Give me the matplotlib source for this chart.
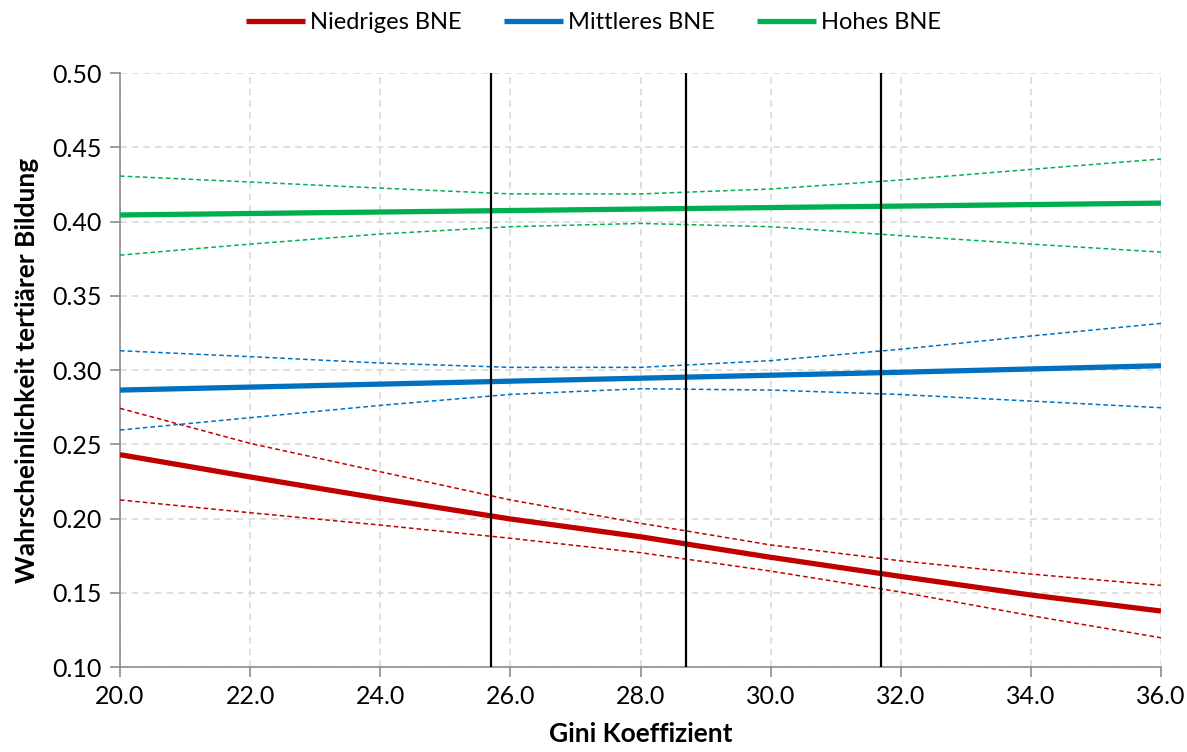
import numpy as np
import matplotlib.pyplot as plt

# Gini values where the curves were read
gini = [20, 22, 24, 26, 28, 30, 32, 34, 36]

# Niedriges BNE
low_mid = [0.2430, 0.2280, 0.2135, 0.1997, 0.1877, 0.1739, 0.1610, 0.1485, 0.1377]
low_hi = [0.2742, 0.2506, 0.2315, 0.2125, 0.1968, 0.1822, 0.1715, 0.1626, 0.1550]
low_lo = [0.2125, 0.2039, 0.1956, 0.1867, 0.1770, 0.1646, 0.1505, 0.1346, 0.1197]

# Mittleres BNE
med_mid = [0.2865, 0.2885, 0.2905, 0.2925, 0.2945, 0.2965, 0.2985, 0.3007, 0.3029]
med_hi = [0.3130, 0.3090, 0.3047, 0.3018, 0.3018, 0.3063, 0.3140, 0.3229, 0.3314]
med_lo = [0.2596, 0.2679, 0.2762, 0.2836, 0.2874, 0.2865, 0.2835, 0.2791, 0.2746]

# Hohes BNE
high_mid = [0.4044, 0.4054, 0.4064, 0.4074, 0.4084, 0.4094, 0.4104, 0.4114, 0.4124]
high_hi = [0.4306, 0.4266, 0.4225, 0.4186, 0.4186, 0.4219, 0.4280, 0.4351, 0.4421]
high_lo = [0.3774, 0.3848, 0.3916, 0.3965, 0.3987, 0.3965, 0.3905, 0.3848, 0.3794]

# vertical reference lines
vlines = [25.7, 28.7, 31.7]

labels = ['Niedriges BNE', 'Mittleres BNE', 'Hohes BNE']
colors = ['#C00000', '#0070C0', '#00B050']

plt.rcParams['font.family'] = ['Lato', 'DejaVu Sans']

fig = plt.figure(figsize=(11.87, 7.52), dpi=100)
ax = fig.add_axes([0.1011, 0.113, 0.8770, 0.7899])

series = [(low_mid, low_hi, low_lo), (med_mid, med_hi, med_lo), (high_mid, high_hi, high_lo)]
handles = []
for (mid, hi, lo), lab, c in zip(series, labels, colors):
    ax.plot(gini, hi, color=c, lw=1.1, ls=(0, (3, 2)), zorder=3)
    ax.plot(gini, lo, color=c, lw=1.1, ls=(0, (3, 2)), zorder=3)
    h, = ax.plot(gini, mid, color=c, lw=3.8, solid_capstyle='butt', zorder=4, label=lab)
    handles.append(h)

for v in vlines:
    ax.axvline(v, color='black', lw=1.6, zorder=5)

ax.set_xlim(20, 36)
ax.set_ylim(0.10, 0.50)
ax.set_xticks(np.arange(20, 36.1, 2))
ax.set_yticks(np.arange(0.10, 0.501, 0.05))
ax.xaxis.set_major_formatter(plt.FormatStrFormatter('%.1f'))
ax.yaxis.set_major_formatter(plt.FormatStrFormatter('%.2f'))
ax.grid(True, color='#D9D9D9', lw=1.2, ls=(0, (4, 3)), zorder=0)

for s in ['top', 'right']:
    ax.spines[s].set_visible(False)
for s in ['left', 'bottom']:
    ax.spines[s].set_color('#8C8C8C')
    ax.spines[s].set_linewidth(1.2)
ax.tick_params(colors='#8C8C8C', width=1.2, length=7, labelcolor='black', labelsize=18, pad=6)

ax.set_xlabel('Gini Koeffizient', fontsize=19, fontweight='bold', labelpad=10)
ax.set_ylabel('Wahrscheinlichkeit tertiärer Bildung', fontsize=19, fontweight='bold', labelpad=10)

fig.legend(handles=handles, loc='upper center', bbox_to_anchor=(0.5, 1.012), ncol=3,
           frameon=False, fontsize=17, handlelength=2.5, handletextpad=0.2, columnspacing=1.8)

fig.savefig('out.png', dpi=100)
